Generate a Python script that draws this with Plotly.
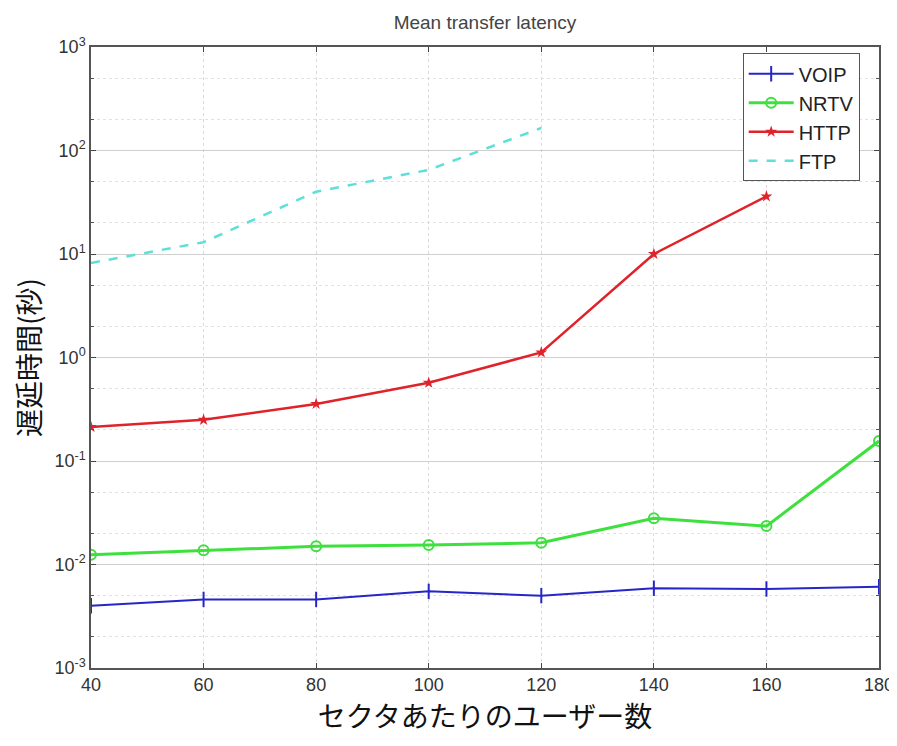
import plotly.graph_objects as go

users = [40, 60, 80, 100, 120, 140, 160, 180]
voip = [0.0040, 0.0046, 0.0046, 0.0055, 0.0050, 0.0059, 0.0058, 0.0061]
nrtv = [0.0124, 0.0137, 0.0150, 0.0154, 0.0162, 0.028, 0.0235, 0.156]
http_x = [40, 60, 80, 100, 120, 140, 160]
http = [0.213, 0.250, 0.356, 0.57, 1.12, 10.0, 36.0]
ftp_x = [40, 60, 80, 100, 120]
ftp = [8.2, 13.0, 40.0, 65.0, 165.0]

y_tickvals = [1e-3, 1e-2, 1e-1, 1e0, 1e1, 1e2, 1e3]
y_ticktext = ["10<sup>-3</sup>", "10<sup>-2</sup>", "10<sup>-1</sup>", "10<sup>0</sup>",
              "10<sup>1</sup>", "10<sup>2</sup>", "10<sup>3</sup>"]
x_tickvals = [40, 60, 80, 100, 120, 140, 160, 180]

W, H = 889, 730  # page body has an 8px margin

fig = go.Figure()
fig.add_trace(go.Scatter(x=users, y=voip, name="VOIP", mode="lines+markers",
                         line=dict(color="#2626c8", width=2),
                         marker=dict(symbol="line-ns-open", size=11, line=dict(color="#2626c8", width=2))))
fig.add_trace(go.Scatter(x=users, y=nrtv, name="NRTV", mode="lines+markers",
                         line=dict(color="#3ee03e", width=3),
                         marker=dict(symbol="circle-open", size=10, line=dict(color="#3ee03e", width=2))))
fig.add_trace(go.Scatter(x=http_x, y=http, name="HTTP", mode="lines+markers",
                         line=dict(color="#e0222a", width=2.5),
                         marker=dict(symbol="star", size=9, color="#e0222a")))
fig.add_trace(go.Scatter(x=ftp_x, y=ftp, name="FTP", mode="lines",
                         line=dict(color="#5ee0d8", width=2.5, dash="dash")))

fig.update_layout(
    width=W, height=H,
    margin=dict(l=83, r=18, t=39, b=70),
    paper_bgcolor="white", plot_bgcolor="white",
    font=dict(family="Liberation Sans, Arial, sans-serif", color="#333333"),
    title=dict(text="Mean transfer latency", x=(485 - 8) / W, xanchor="center",
               y=1 - 14 / H, yanchor="middle",
               font=dict(size=19, color="#444444")),
    showlegend=True,
    legend=dict(x=0.827, y=0.99, xanchor="left", yanchor="top",
                bordercolor="#555555", borderwidth=1, bgcolor="white",
                font=dict(size=20, color="#222222"), itemwidth=45,
                tracegroupgap=1),
)
fig.update_xaxes(range=[40, 180], tickvals=x_tickvals, ticks="inside", ticklen=5,
                 showline=True, linecolor="#555555", linewidth=1.5, mirror="ticks",
                 showgrid=True, gridcolor="#d9d9d9", griddash="dot", gridwidth=1,
                 zeroline=False, tickfont=dict(size=18, color="#333333"), automargin=False,
                 title=dict(text="セクタあたりのユーザー数", standoff=6,
                            font=dict(family="Noto Sans CJK JP", size=28, color="#111111")))
fig.update_yaxes(type="log", range=[-3, 3], tickvals=y_tickvals, ticktext=y_ticktext,
                 ticks="inside", ticklen=5, automargin=False,
                 showline=True, linecolor="#555555", linewidth=1.5, mirror="ticks",
                 showgrid=True, gridcolor="#cfcfcf", gridwidth=1,
                 minor=dict(ticks="inside", ticklen=3, showgrid=True, gridcolor="#e2e2e2",
                            griddash="dot", tickcolor="#555555"),
                 zeroline=False, tickfont=dict(size=18, color="#333333"),
                 title=dict(text="遅延時間(秒)", standoff=10,
                            font=dict(family="Noto Sans CJK JP", size=28, color="#111111")))

fig.write_html("out.html")
